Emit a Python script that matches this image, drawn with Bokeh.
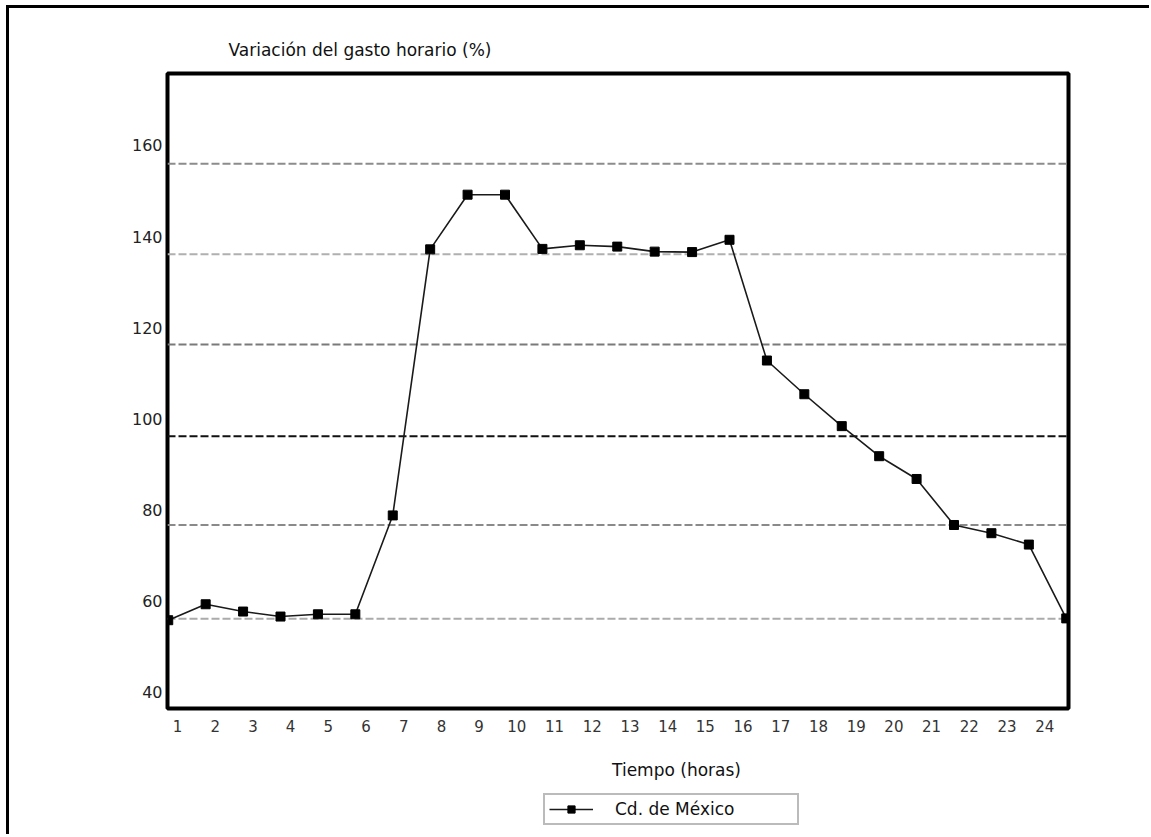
from bokeh.plotting import figure
from bokeh.layouts import column
from bokeh.models import (Range1d, LinearAxis, FixedTicker, Span, Label, Legend, LegendItem)
from bokeh.embed import file_html
from bokeh.resources import INLINE

# ---- data ----
HOURS = [0, 1, 2, 3, 4, 5, 6, 7, 8, 9, 10, 11, 12, 13, 14, 15, 16, 17, 18, 19, 20, 21, 22, 23, 24]
GASTO = [55.8, 59.3, 57.7, 56.6, 57.1, 57.1, 78.8, 137.2, 149.2, 149.2, 137.3, 138.1, 137.8,
         136.7, 136.6, 139.3, 112.8, 105.4, 98.4, 91.8, 86.8, 76.7, 74.9, 72.4, 56.2]
SERIES_NAME = "Cd. de México"
X_TICK_LABELS = [1, 2, 3, 4, 5, 6, 7, 8, 9, 10, 11, 12, 13, 14, 15, 16, 17, 18, 19, 20, 21, 22, 23, 24]
Y_TICKS = [40, 60, 80, 100, 120, 140, 160]
GRID_Y = [56.1, 76.7, 96.2, 116.3, 136.1, 156.0]
GRID_COLORS = ["#ababab", "#8a8a8a", "#111111", "#7a7a7a", "#b0b0b0", "#8c8c8c"]
TITLE_Y = "Variación del gasto horario (%)"
TITLE_X = "Tiempo (horas)"

FONT = "DejaVu Sans"
LINE_COLOR = "#1a1a1a"

p = figure(width=1140, height=732,
           x_range=Range1d(-0.02, 24.06), y_range=Range1d(36.42, 175.8),
           x_axis_location=None, y_axis_location="left",
           output_backend="svg", toolbar_location=None,
           min_border_left=158, min_border_right=81, min_border_top=65, min_border_bottom=32,
           background_fill_color="white", border_fill_color="white")

p.xgrid.visible = False
p.ygrid.visible = False
p.outline_line_color = "black"
p.outline_line_width = 4
p.outline_line_alpha = 1.0

# title (y quantity) above the frame
p.title.text = TITLE_Y
p.title.align = "left"
p.title.offset = 61
p.title.standoff = 26
p.title.vertical_align = "middle"
p.title.text_font = FONT
p.title.text_font_size = "17px"
p.title.text_font_style = "normal"
p.title.text_color = "#111111"

# y axis
ya = p.yaxis[0]
ya.ticker = FixedTicker(ticks=Y_TICKS)
ya.axis_line_color = None
ya.major_tick_line_color = None
ya.minor_tick_line_color = None
ya.major_tick_out = 0
ya.major_tick_in = 0
ya.major_label_standoff = 5
ya.major_label_text_font = FONT
ya.major_label_text_font_size = "16px"
ya.major_label_text_color = "#222222"

# x axis labels (category labels sit between the hourly points)
p.extra_x_ranges = {"lab": Range1d(0.735, 24.63)}
xa = LinearAxis(x_range_name="lab", ticker=FixedTicker(ticks=X_TICK_LABELS))
xa.axis_line_color = None
xa.major_tick_line_color = None
xa.minor_tick_line_color = None
xa.major_tick_out = 0
xa.major_tick_in = 0
xa.major_label_standoff = 11
xa.major_label_text_font = FONT
xa.major_label_text_font_size = "15px"
xa.major_label_text_color = "#333333"
p.add_layout(xa, "below")

# dashed horizontal grid lines
for gy, gc in zip(GRID_Y, GRID_COLORS):
    p.add_layout(Span(location=gy, dimension="width", line_color=gc, line_width=2,
                      line_dash="8 3", level="underlay"))

# series
p.line(HOURS, GASTO, line_color=LINE_COLOR, line_width=1.6)
p.scatter(HOURS, GASTO, marker="square", size=9, fill_color="black", line_color="black")

# strip below the chart: x-axis title and legend
# (same series drawn here; its view range keeps the marks out of sight)
q = figure(width=1140, height=94, x_range=Range1d(0, 1), y_range=Range1d(0, 1),
           x_axis_location=None, y_axis_location=None,
           output_backend="svg", toolbar_location=None,
           min_border_left=0, min_border_right=0, min_border_top=0, min_border_bottom=0,
           background_fill_color="white", border_fill_color="white")
q.xgrid.visible = False
q.ygrid.visible = False
q.outline_line_color = None

q.add_layout(Label(x=509, y=65, x_units="screen", y_units="screen", text=TITLE_X,
                   text_font=FONT, text_font_size="17px", text_color="#111111",
                   text_align="center", text_baseline="middle"))

lg_line = q.line(HOURS, GASTO, line_color=LINE_COLOR, line_width=1.6)
lg_pts = q.scatter(HOURS, GASTO, marker="square", size=9, fill_color="black", line_color="black")
legend = Legend(items=[LegendItem(label=SERIES_NAME, renderers=[lg_line, lg_pts])],
                location=(376, 9), orientation="vertical",
                padding=4, spacing=0, margin=0,
                glyph_width=44, glyph_height=18, label_standoff=22,
                label_width=178, label_height=20,
                label_text_font=FONT, label_text_font_size="17px", label_text_color="#111111",
                border_line_color="#777777", border_line_width=2.5,
                background_fill_color="white", background_fill_alpha=1.0)
q.add_layout(legend, "center")

layout = column(p, q, spacing=0)
layout.styles = {"border-left": "3px solid black", "border-top": "3px solid black",
                 "margin-left": "6px", "margin-top": "5px"}

open("out.html", "w").write(file_html(layout, INLINE))
